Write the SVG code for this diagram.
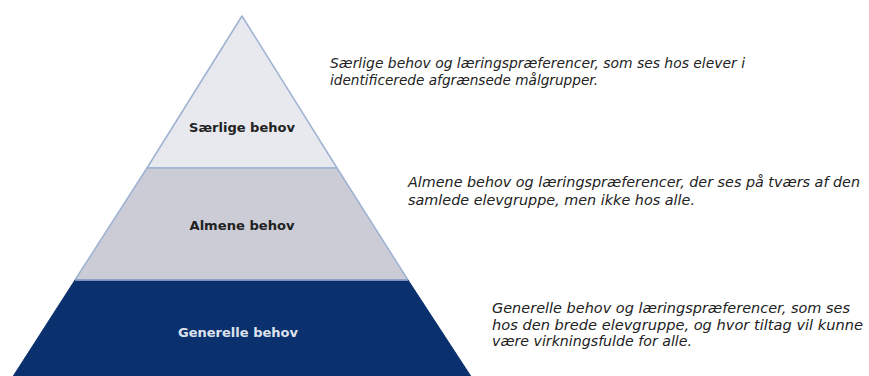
<svg xmlns="http://www.w3.org/2000/svg" width="869" height="376" viewBox="0 0 869 376">
<style>
.edge{stroke:#9db2d3;stroke-width:1.5;stroke-linejoin:round}
.lbl{font-family:"DejaVu Sans","Verdana",sans-serif;font-weight:bold;font-size:12.5px;text-anchor:middle}
.desc{font-family:"DejaVu Sans","Verdana",sans-serif;font-style:italic;font-size:13.5px;fill:#222}
</style>
<rect width="869" height="376" fill="#ffffff"/>
<g id="layer-top">
<polygon class="edge" points="242,16 337,168 147,168" fill="#e8e9ee"/>
<text class="lbl" x="242" y="132" fill="#222" textLength="106" lengthAdjust="spacingAndGlyphs">Særlige behov</text>
</g>
<g id="layer-middle">
<polygon class="edge" points="147,168 337,168 408,280 75,280" fill="#cbccd5"/>
<text class="lbl" x="242" y="230" fill="#222" textLength="105" lengthAdjust="spacingAndGlyphs">Almene behov</text>
</g>
<g id="layer-bottom">
<polygon points="75,280 408,280 472,378 12,378" fill="#0a316e" stroke="#0a316e" stroke-width="1"/>
<line class="edge" x1="75" y1="280" x2="408" y2="280"/>
<text class="lbl" x="238" y="337" fill="#dde2ec" textLength="120" lengthAdjust="spacingAndGlyphs">Generelle behov</text>
</g>
<g id="desc-top">
<text class="desc" x="330" y="68" textLength="415" lengthAdjust="spacingAndGlyphs">Særlige behov og læringspræferencer, som ses hos elever i</text>
<text class="desc" x="330" y="85" textLength="268" lengthAdjust="spacingAndGlyphs">identificerede afgrænsede målgrupper.</text>
</g>
<g id="desc-middle">
<text class="desc" x="408" y="187" textLength="452" lengthAdjust="spacingAndGlyphs">Almene behov og læringspræferencer, der ses på tværs af den</text>
<text class="desc" x="408" y="205" textLength="287" lengthAdjust="spacingAndGlyphs">samlede elevgruppe, men ikke hos alle.</text>
</g>
<g id="desc-bottom">
<text class="desc" x="492" y="313" textLength="358" lengthAdjust="spacingAndGlyphs">Generelle behov og læringspræferencer, som ses</text>
<text class="desc" x="492" y="330" textLength="371" lengthAdjust="spacingAndGlyphs">hos den brede elevgruppe, og hvor tiltag vil kunne</text>
<text class="desc" x="492" y="346" textLength="200" lengthAdjust="spacingAndGlyphs">være virkningsfulde for alle.</text>
</g>
</svg>
